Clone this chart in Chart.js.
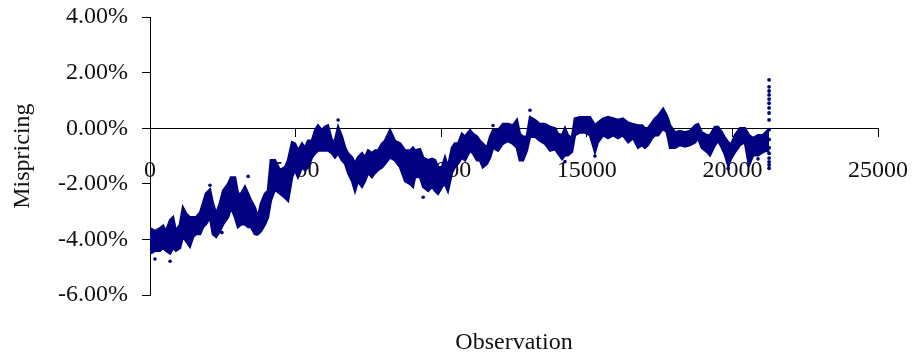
<!DOCTYPE html>
<html>
<head>
<meta charset="utf-8">
<title>Mispricing</title>
<script src="https://cdn.jsdelivr.net/npm/chart.js@4.4.0/dist/chart.umd.min.js"></script>
<style>
  html, body { margin: 0; padding: 0; background: #fff; }
  #wrap { width: 920px; height: 360px; }
</style>
</head>
<body>
<div id="wrap"><canvas id="chart" width="920" height="360"></canvas></div>
<script>
// Datos (mispricing en %): borde superior e inferior de la nube de puntos
const observations = [0, 100, 170, 340, 450, 550, 690, 790, 890, 1030, 1130, 1240, 1370, 1480, 1580, 1720, 1820, 1920, 2060, 2160,
    2270, 2400, 2510, 2680, 2780, 2920, 3020, 3130, 3260, 3370, 3470, 3600, 3710, 3810, 3950, 4050, 4150, 4290, 4460, 4640,
    4740, 4880, 4980, 5080, 5220, 5320, 5430, 5560, 5670, 5770, 5900, 6010, 6110, 6250, 6350, 6460, 6590, 6700, 6800, 6940,
    7040, 7140, 7280, 7380, 7490, 7620, 7730, 7830, 7970, 8070, 8240, 8410, 8590, 8760, 8930, 9030, 9100, 9270, 9380, 9550,
    9690, 9790, 9890, 10030, 10130, 10230, 10370, 10470, 10580, 10710, 10820, 10990, 11090, 11230, 11330, 11430, 11570, 11680, 11780, 11950,
    12120, 12290, 12460, 12600, 12700, 12810, 12940, 13050, 13220, 13390, 13560, 13740, 13910, 14010, 14150, 14250, 14350, 14490, 14590, 14760,
    14940, 15110, 15280, 15380, 15560, 15730, 15900, 16070, 16240, 16420, 16590, 16760, 16900, 17000, 17100, 17240, 17340, 17450, 17620, 17750,
    17860, 18030, 18200, 18370, 18540, 18720, 18820, 18950, 19130, 19230, 19400, 19510, 19640, 19750, 19850, 19950, 20090, 20260, 20430, 20570,
    20710, 20880, 21050, 21190, 21260];
const upperValues = [-3.6, -3.65, -3.7, -3.6, -3.5, -3.7, -3.3, -3.2, -3.7, -3.45, -2.85, -3.07, -3.2, -3.2, -3.2, -3.03, -2.7, -2.35, -2.2, -2.7,
    -3.07, -2.7, -2.25, -2.0, -1.77, -1.77, -2.35, -2.35, -2.1, -2.35, -2.6, -2.85, -3.2, -2.7, -2.35, -2.25, -1.15, -1.15, -1.5, -1.4,
    -1.15, -0.5, -0.55, -0.8, -0.55, -0.7, -0.45, -0.45, -0.07, 0.1, -0.07, 0.05, 0.1, -0.45, -0.45, 0.05, -0.3, -0.7, -0.9, -1.05,
    -1.27, -1.05, -0.9, -1.05, -0.8, -0.9, -0.8, -0.8, -0.55, -0.45, -0.07, -0.45, -0.55, -0.8, -0.8, -0.7, -0.8, -0.75, -1.05, -1.15,
    -1.1, -1.15, -1.4, -1.4, -1.05, -1.4, -0.7, -0.55, -0.55, -0.2, -0.3, -0.07, -0.2, -0.3, -0.45, -0.55, -0.7, -0.3, -0.07, -0.07,
    0.15, 0.15, 0.1, 0.3, -0.2, -0.3, -0.3, 0.4, 0.3, 0.15, 0.15, 0.05, 0, -0.2, -0.25, 0, -0.25, -0.35, 0.35, 0.4,
    0.4, 0.4, 0.1, 0.2, 0.35, 0.4, 0.35, 0.3, 0.35, 0.2, 0.15, 0.1, 0.1, 0, 0, 0.2, 0.35, 0.45, 0.7, 0.45,
    0.1, -0.15, -0.1, -0.15, -0.1, 0.1, 0.15, -0.15, -0.25, -0.25, 0.05, 0.05, -0.15, -0.35, -0.5, -0.6, -0.25, 0, 0, -0.25,
    -0.35, -0.25, -0.25, -0.1, -0.05];
const lowerValues = [-4.5, -4.45, -4.4, -4.4, -4.3, -4.4, -4.5, -4.3, -4.4, -4.3, -3.9, -4.05, -4.25, -3.9, -3.8, -3.8, -3.55, -3.45, -3.2, -3.8,
    -3.9, -3.7, -3.45, -3.2, -2.85, -3.2, -3.55, -3.45, -3.45, -3.55, -3.55, -3.8, -3.8, -3.7, -3.45, -3.2, -2.6, -2.2, -2.35, -2.5,
    -2.6, -1.75, -1.5, -1.75, -1.4, -1.5, -1.4, -1.05, -0.9, -0.8, -0.8, -0.8, -0.8, -0.9, -1.05, -0.9, -1.15, -1.27, -1.6, -1.9,
    -2.25, -1.9, -2.1, -1.9, -1.6, -1.75, -1.6, -1.5, -1.4, -1.27, -1.05, -1.15, -1.4, -1.9, -2.0, -2.1, -1.75, -1.75, -2.1, -2.25,
    -2.1, -2.25, -2.35, -2.1, -2.0, -2.25, -1.6, -1.4, -1.27, -1.05, -1.15, -0.8, -0.9, -1.15, -1.15, -1.4, -1.27, -1.05, -0.7, -0.8,
    -0.55, -0.45, -0.55, -0.7, -1.15, -1.15, -0.8, -0.3, -0.3, -0.45, -0.55, -0.8, -0.75, -0.9, -1.1, -0.97, -0.97, -0.85, -0.25, -0.15,
    -0.15, -0.25, -0.85, -0.5, -0.25, -0.35, -0.25, -0.35, -0.25, -0.5, -0.35, -0.7, -0.6, -0.7, -0.6, -0.35, -0.25, -0.25, 0, -0.15,
    -0.7, -0.7, -0.6, -0.65, -0.6, -0.5, -0.35, -0.7, -0.85, -0.97, -0.6, -0.45, -0.7, -0.97, -1.33, -1.1, -0.85, -0.6, -0.5, -1.33,
    -0.97, -0.97, -0.85, -0.8, -0.85];

// Puntos sueltos fuera de la banda
const outlierObs = [170, 690, 2060, 2470, 3370, 3670, 6460, 9380, 11780, 13050, 14250, 15280, 19850, 20880];
const outlierValues = [-4.7, -4.78, -2.05, -3.75, -1.73, -3.8, 0.3, -2.48, 0.1, 0.65, -1.2, -1.0, -1.45, -1.1];

// Columna de puntos al final de la serie
const spikeObs = 21260;
const spikeValues = [1.74, 1.49, 1.34, 1.2, 1.05, 0.9, 0.73, 0.55, 0.3, -0.05, -0.4, -0.7, -0.9, -1.07, -1.21, -1.32, -1.44];

const yTicks = [-6, -4, -2, 0, 2, 4];
const xTicks = [0, 5000, 10000, 15000, 20000, 25000];

const navy = '#000080';
const serif = "'Liberation Serif', 'Times New Roman', serif";

const upperData = observations.map((x, i) => ({ x: x, y: upperValues[i] }));
const lowerData = observations.map((x, i) => ({ x: x, y: lowerValues[i] }));
const outlierData = outlierObs.map((x, i) => ({ x: x, y: outlierValues[i] }));
const spikeData = spikeValues.map(v => ({ x: spikeObs, y: v }));

const ctx = document.getElementById('chart').getContext('2d');
const chart = new Chart(ctx, {
    type: 'scatter',
    data: {
        datasets: [
            {
                data: upperData,
                showLine: true,
                borderColor: navy,
                backgroundColor: navy,
                borderWidth: 2.5,
                pointRadius: 0,
                fill: '+1'
            },
            {
                data: lowerData,
                showLine: true,
                borderColor: navy,
                backgroundColor: navy,
                borderWidth: 2.5,
                pointRadius: 0,
                fill: false
            },
            {
                data: outlierData,
                backgroundColor: navy,
                borderColor: navy,
                borderWidth: 0,
                pointRadius: 1.8
            },
            {
                data: spikeData,
                backgroundColor: navy,
                borderColor: navy,
                borderWidth: 0,
                pointRadius: 1.9
            }
        ]
    },
    options: {
        responsive: false,
        animation: false,
        layout: { padding: { top: 17, right: 42, left: 0, bottom: 0 } },
        plugins: {
            legend: { display: false },
            tooltip: { enabled: false },
            title: {
                display: true,
                text: 'Observation',
                position: 'bottom',
                fullSize: false,
                color: '#111',
                font: { family: serif, size: 24, weight: 'normal' },
                padding: { top: 33, bottom: 3 }
            }
        },
        scales: {
            x: {
                type: 'linear',
                position: { y: 0 },
                min: 0,
                max: 25000,
                afterBuildTicks: scale => { scale.ticks = xTicks.map(v => ({ value: v })); },
                afterFit: scale => {
                    scale.paddingLeft = 0;
                    scale.paddingRight = 0;
                },
                ticks: {
                    color: '#111',
                    font: { family: serif, size: 24 },
                    padding: 20,
                    maxRotation: 0,
                    autoSkip: false,
                    callback: v => String(v)
                },
                grid: { drawOnChartArea: false, tickLength: 8, color: '#000' },
                border: { color: '#000', width: 1 }
            },
            y: {
                type: 'linear',
                position: 'left',
                min: -6,
                max: 4,
                afterBuildTicks: scale => { scale.ticks = yTicks.map(v => ({ value: v })); },
                afterFit: scale => {
                    scale.width = 150;
                    scale.paddingTop = 0;
                    scale.paddingBottom = 0;
                },
                ticks: {
                    color: '#111',
                    font: { family: serif, size: 24 },
                    padding: 14,
                    callback: v => v.toFixed(2) + '%'
                },
                grid: { drawOnChartArea: false, tickLength: 8, color: '#000' },
                border: { color: '#000', width: 1 },
                title: {
                    display: true,
                    text: 'Mispricing',
                    color: '#111',
                    font: { family: serif, size: 24 },
                    padding: { top: 8, bottom: 0 }
                }
            }
        }
    }
});
</script>
</body>
</html>
